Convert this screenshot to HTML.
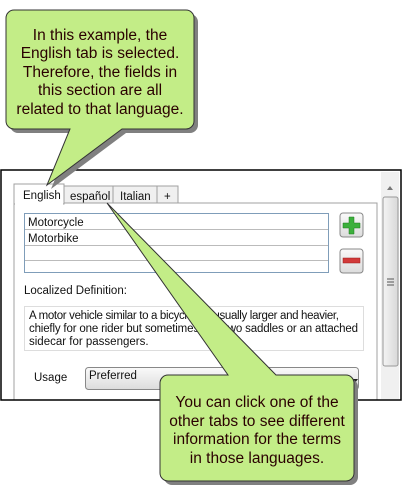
<!DOCTYPE html>
<html><head><style>
body{margin:0;width:402px;height:497px;background:#fff;overflow:hidden}
svg{display:block}
.u{font-family:"Liberation Sans",sans-serif;font-size:11.5px;fill:#111}
.c{font-family:"Liberation Sans",sans-serif;font-size:15.5px;fill:#2a0000;text-anchor:middle}
</style></head><body>
<svg width="402" height="497" viewBox="0 0 402 497">
<defs>
<linearGradient id="btn" x1="0" y1="0" x2="0" y2="1"><stop offset="0" stop-color="#fafafa"/><stop offset="1" stop-color="#dcdcdc"/></linearGradient>
<linearGradient id="sb" x1="0" y1="0" x2="1" y2="0"><stop offset="0" stop-color="#f4f4f4"/><stop offset="1" stop-color="#d8d8d8"/></linearGradient>
</defs>
<rect x="1" y="170" width="400" height="230" fill="#fff"/>
<rect x="381" y="172" width="18" height="227" fill="#f0f0f0"/>
<path d="M387 190 L390 186 L393 190 Z" fill="#777"/>
<rect x="383" y="197" width="15" height="169" rx="2" fill="url(#sb)" stroke="#999"/>
<path d="M387 279h7M387 282h7M387 285h7" stroke="#555"/>
<rect x="14" y="203" width="363" height="200" fill="#fff" stroke="#a0a0a0"/>
<rect x="64" y="186" width="49" height="17" fill="#f0f0f0" stroke="#a0a0a0"/>
<rect x="113" y="186" width="44" height="17" fill="#f0f0f0" stroke="#a0a0a0"/>
<rect x="157" y="186" width="21" height="17" fill="#f0f0f0" stroke="#a0a0a0"/>
<rect x="14" y="184" width="50" height="20" fill="#fff" stroke="#a0a0a0"/>
<rect x="15" y="203" width="48" height="2" fill="#fff"/>
<text class="u" x="23" y="199">English</text>
<text class="u" x="70" y="200">español</text>
<text class="u" x="120" y="200">Italian</text>
<text class="u" x="164" y="200">+</text>
<rect x="24.5" y="213.5" width="304" height="59" fill="#fff" stroke="#7f9db9"/>
<path d="M25 229.5h303M25 245.5h303M25 260.5h303" stroke="#bbb"/>
<text class="u" x="28" y="226">Motorcycle</text>
<text class="u" x="28" y="242">Motorbike</text>
<rect x="340" y="213" width="23" height="24" rx="3" fill="url(#btn)" stroke="#888"/>
<path d="M349 217h5v6h6v5h-6v6h-5v-6h-6v-5h6z" fill="#3cb03c" stroke="#1d7a1d" stroke-width=".5"/>
<rect x="340" y="249" width="23" height="24" rx="3" fill="url(#btn)" stroke="#888"/>
<rect x="343" y="258" width="17" height="5" fill="#d23a3a" stroke="#9a1a1a" stroke-width=".5"/>
<text class="u" x="24" y="294">Localized Definition:</text>
<rect x="24.5" y="306.5" width="339" height="44" fill="#fff" stroke="#ddd"/>
<text class="u" x="29" y="319" textLength="310">A motor vehicle similar to a bicycle but usually larger and heavier,</text>
<text class="u" x="29" y="332" textLength="329">chiefly for one rider but sometimes with two saddles or an attached</text>
<text class="u" x="29" y="345">sidecar for passengers.</text>
<text class="u" x="34" y="381">Usage</text>
<rect x="85.5" y="367.5" width="273" height="22" rx="3" fill="url(#btn)" stroke="#888"/>
<text class="u" x="89" y="379">Preferred</text>
<path d="M352 379l3 4l3-4z" fill="#222"/>
<rect x="1" y="400" width="401" height="10" fill="#fff"/>
<rect x="1" y="170" width="400" height="230" fill="none" stroke="#000" stroke-width="1.5"/>
<g transform="translate(4,4)" fill="#808080">
<path d="M14 10h172a8 8 0 0 1 8 8v103a8 8 0 0 1-8 8H122L47 185L70 129H14a8 8 0 0 1-8-8V18a8 8 0 0 1 8-8z"/>
</g>
<path d="M14 10h172a8 8 0 0 1 8 8v103a8 8 0 0 1-8 8H122L47 185L70 129H14a8 8 0 0 1-8-8V18a8 8 0 0 1 8-8z" fill="#c3ed87" stroke="#333" stroke-width="1"/>
<text class="c" x="100" y="40">In this example, the</text>
<text class="c" x="100" y="58">English tab is selected.</text>
<text class="c" x="100" y="77">Therefore, the fields in</text>
<text class="c" x="100" y="95">this section are all</text>
<text class="c" x="100" y="114">related to that language.</text>
<g transform="translate(4,4)" fill="#808080">
<path d="M168 375H228L107 203L276 375H346a8 8 0 0 1 8 8v90a8 8 0 0 1-8 8H168a8 8 0 0 1-8-8v-90a8 8 0 0 1 8-8z"/>
</g>
<path d="M168 375H228L107 203L276 375H346a8 8 0 0 1 8 8v90a8 8 0 0 1-8 8H168a8 8 0 0 1-8-8v-90a8 8 0 0 1 8-8z" fill="#c3ed87" stroke="#333" stroke-width="1"/>
<text class="c" x="257" y="407">You can click one of the</text>
<text class="c" x="257" y="426">other tabs to see different</text>
<text class="c" x="257" y="444">information for the terms</text>
<text class="c" x="257" y="463">in those languages.</text>
</svg>
</body></html>
